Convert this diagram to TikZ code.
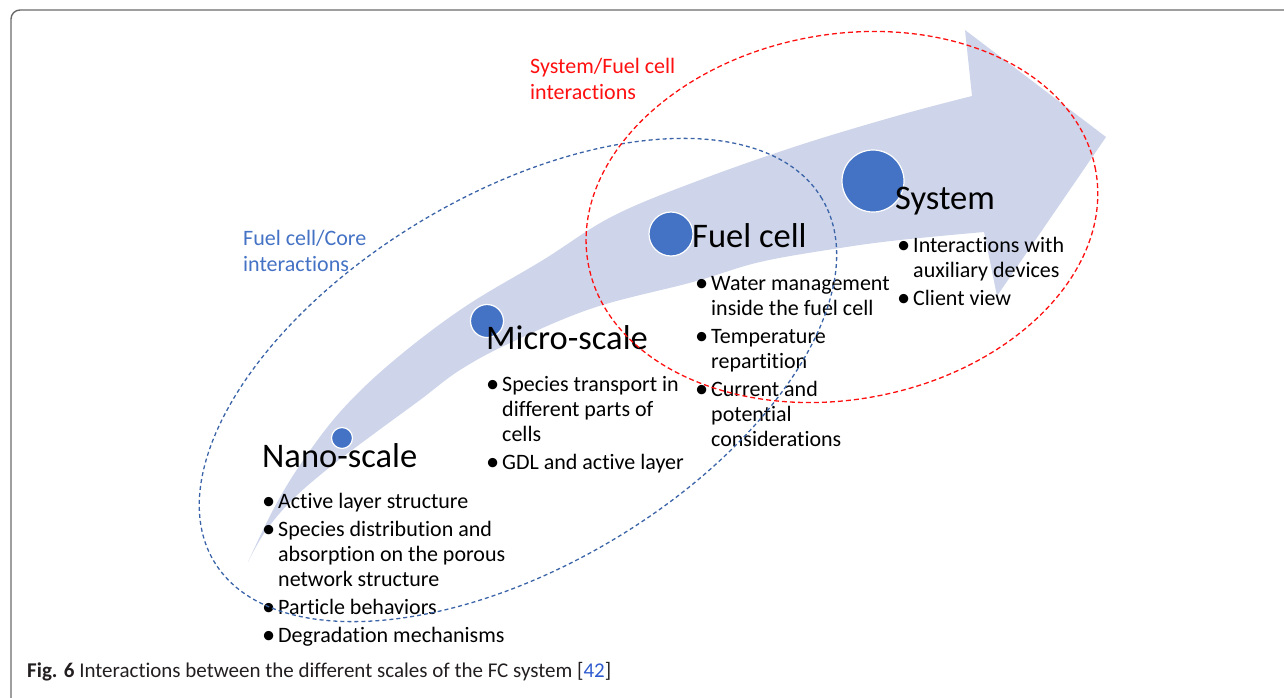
\documentclass[tikz,border=0pt]{standalone}
\usepackage{fontspec}
\setmainfont{Carlito}[Ligatures={NoCommon,NoRequired,NoContextual}]
\newcommand{\blt}{\makebox[14pt][l]{\makebox[9pt][c]{\raisebox{-1.2pt}{\scalebox{1.2}{•}}}}}
\newcommand{\bind}{\hspace*{14pt}}
\definecolor{bandfill}{HTML}{CED5EA}
\definecolor{dotblue}{HTML}{4472C4}
\definecolor{ringblue}{HTML}{3A63A8}
\definecolor{ringred}{HTML}{FF1010}
\definecolor{framegray}{HTML}{6A6A6A}
\definecolor{captxt}{HTML}{231F20}
\definecolor{refblue}{HTML}{2F5BD0}
\tikzset{
  heading/.style={anchor=base west, inner sep=0pt, font=\fontsize{34.5}{40}\selectfont},
  blist/.style={anchor=base west, inner sep=0pt, font=\fontsize{22}{25}\selectfont},
  grouplabel/.style={anchor=base west, inner sep=0pt, align=left, font=\fontsize{22}{26}\selectfont},
  scaledot/.style={circle, fill=dotblue, draw=white, line width=1.2pt, inner sep=0pt},
  ringbluestyle/.style={draw=ringblue, line width=1.3pt, dash pattern=on 4pt off 3pt},
  ringredstyle/.style={draw=ringred, line width=1.3pt, dash pattern=on 5pt off 3pt}
}
\begin{document}
\begin{tikzpicture}[x=1pt,y=-1pt]
\useasboundingbox (0,0) rectangle (1284,697);
\clip (0,0) rectangle (1284,697);
% frame
\draw[framegray, line width=1.4pt, rounded corners=9pt] (11,10) rectangle (1320,730);
% curved arrow band
\fill[bandfill]
  plot[smooth, tension=0.6] coordinates {(248,562) (273,510) (300,465) (340,412) (392,362) (463,308) (543,260) (613,216) (700,180) (800,145) (900,115) (972,96)}
  -- (965,30) -- (1106,137) -- (997,296) -- (984,232)
  -- plot[smooth, tension=0.6] coordinates {(984,232) (900,240) (840,248) (760,262) (693,282) (593,308) (510,343) (460,370) (420,400) (375,433) (330,467) (292,500) (265,532) (248,562)}
  -- cycle;
% scale dots
\node[scaledot, minimum size=21pt] (nano) at (342,438) {};
\node[scaledot, minimum size=33pt] (micro) at (487,321) {};
\node[scaledot, minimum size=44pt] (fuel) at (671,234) {};
\node[scaledot, minimum size=62pt] (sys) at (873,181) {};
% headings
\node[heading] (nanoh) at (262,467) {Nano-scale};
\node[heading] (microh) at (486,349) {Micro-scale};
\node[heading] (fuelh) at (692,247) {Fuel cell};
\node[heading] (sysh) at (895,209) {System};
% bullet lists
\node[blist] (nanol) at (264,508) {\begin{tabular}[t]{@{}l@{}}
\blt Active layer structure\\[3pt]
\blt Species distribution and\\
\bind absorption on the porous\\
\bind network structure\\[3pt]
\blt Particle behaviors\\[3pt]
\blt Degradation mechanisms
\end{tabular}};
\node[blist] (microl) at (488,391) {\begin{tabular}[t]{@{}l@{}}
\blt Species transport in\\
\bind different parts of\\
\bind cells\\[3pt]
\blt GDL and active layer
\end{tabular}};
\node[blist] (fuell) at (697,290) {\begin{tabular}[t]{@{}l@{}}
\blt Water management\\
\bind inside the fuel cell\\[3pt]
\blt Temperature\\
\bind repartition\\[3pt]
\blt Current and\\
\bind potential\\
\bind considerations
\end{tabular}};
\node[blist] (sysl) at (899,252) {\begin{tabular}[t]{@{}l@{}}
\blt Interactions with\\
\bind auxiliary devices\\[3pt]
\blt Client view
\end{tabular}};
% group labels (anchor at baseline of last line)
\node[grouplabel, text=dotblue] (corelab) at (243,271) {Fuel cell/Core\\interactions};
\node[grouplabel, text=ringred] (syslab) at (530,99) {System/Fuel cell\\interactions};
% interaction rings
\coordinate (corec) at (518,380);
\coordinate (sysc) at (842,217);
\draw[ringbluestyle, rotate around={30.8:(corec)}] (corec) ellipse [x radius=354pt, y radius=186pt];
\draw[ringredstyle, rotate around={10.5:(sysc)}] (sysc) ellipse [x radius=258pt, y radius=182.5pt];
% caption
\node[anchor=base west, inner sep=0pt, text=captxt, font=\fontsize{21}{24}\selectfont] (cap) at (27,677) {\textbf{Fig. 6} Interactions between the different scales of the FC system [\textcolor{refblue}{42}]};
\end{tikzpicture}
\end{document}
